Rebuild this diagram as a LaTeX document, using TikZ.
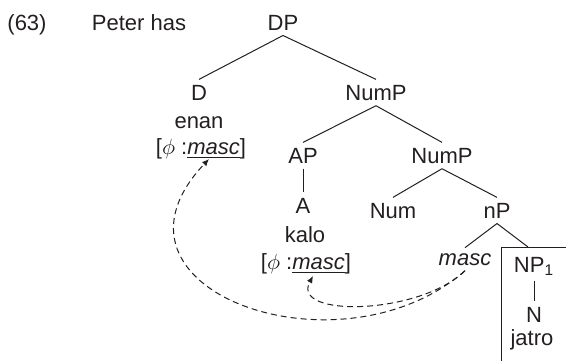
\documentclass[tikz,border=0pt]{standalone}
\usepackage{fontspec}
\setmainfont{Liberation Sans}
\usetikzlibrary{arrows.meta}
\definecolor{ink}{RGB}{35,31,32}

\begin{document}
\begin{tikzpicture}[x=0.5pt, y=-0.5pt, >={Latex[length=3.5pt,width=3pt]}, ink, line width=0.5pt,
        every node/.style={anchor=base, inner sep=2.5pt, font=\fontsize{11}{13}\selectfont},
        agree/.style={->, dash pattern=on 3pt off 2pt}]
        \useasboundingbox (0,0) rectangle (566,360);
        \node (ex) at (27,30) {(63)};
        \node (peter) at (139,30) {Peter has};
        \node (DP) at (283,30) {DP};
        \node (D) at (199,100) {D};
        \node (enan) at (199,128) {enan};
        \node (Dfeat) at (201,154) {[$\phi$ :\underline{\textit{masc}}]};
        \node (NumP) at (376,100) {NumP};
        \node (AP) at (303,163) {AP};
        \node (NumPb) at (442,163) {NumP};
        \node (A) at (303,213) {A};
        \node (kalo) at (305,242) {kalo};
        \node (Afeat) at (306,269) {[$\phi$ :\underline{\textit{masc}}]};
        \node (Num) at (393,218) {Num};
        \node (nP) at (497,218) {nP};
        \node (masc) at (465,265) {\textit{masc}};
        \node (NPone) at (534,272) {NP\textsubscript{1}};
        \node (N) at (534,322) {N};
        \node (jatro) at (532,345) {jatro};
        \coordinate (boxtop) at (528,247);
        \coordinate (Dgoal) at (209,159);
        \coordinate (Agoal) at (313,276);
        % tree
        \draw (DP.south) -- (D.north);
        \draw (DP.south) -- (NumP.north);
        \draw (NumP.south) -- (AP.north);
        \draw (NumP.south) -- (NumPb.north);
        \draw (AP.south) -- (A.north);
        \draw (NumPb.south) -- (Num.north);
        \draw (NumPb.south) -- (nP.north);
        \draw (nP.south) -- (masc.north);
        \draw (nP.south) -- (boxtop);
        \draw (NPone.south) -- (N.north);
        \draw (501,380) |- (600,247);
        % agreement
        \draw[agree] (masc.south) .. controls (340,380) and (85,290) .. (Dgoal);
        \draw[agree] (masc.south) .. controls (420,315) and (290,318) .. (Agoal);
    \end{tikzpicture}
\end{document}
